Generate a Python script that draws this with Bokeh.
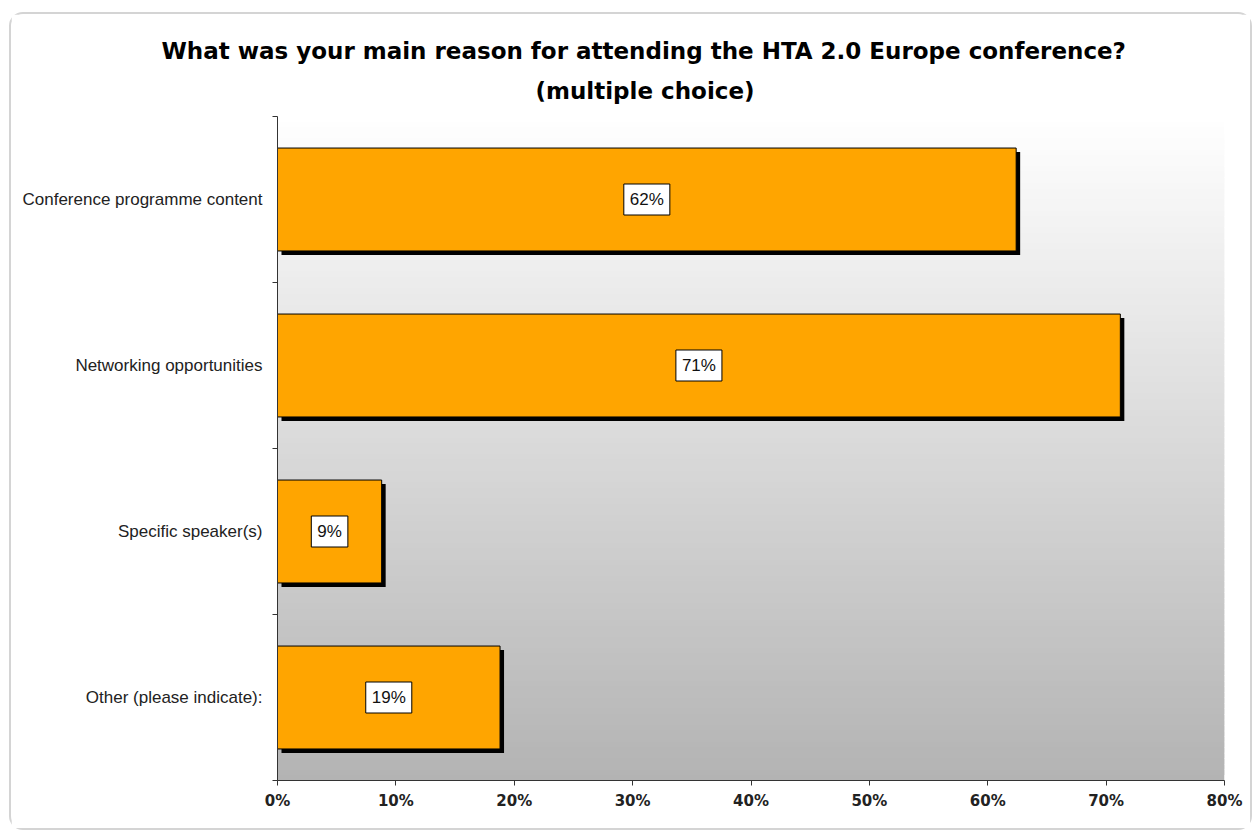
from bokeh.plotting import figure
from bokeh.models import FixedTicker, Range1d, Title, ColumnDataSource
from bokeh.core.properties import value
from bokeh.embed import file_html
from bokeh.resources import INLINE
import numpy as np

# ---- data ----
categories = ["Conference programme content", "Networking opportunities",
              "Specific speaker(s)", "Other (please indicate):"]
values = [62.4, 71.2, 8.8, 18.8]
value_labels = ["62%", "71%", "9%", "19%"]
x_ticks = [0, 10, 20, 30, 40, 50, 60, 70, 80]
x_tick_labels = ["0%", "10%", "20%", "30%", "40%", "50%", "60%", "70%", "80%"]
title_lines = ["What was your main reason for attending the HTA 2.0 Europe conference?",
               "(multiple choice)"]

n = len(categories)
ypos = [n - i - 0.5 for i in range(n)]
XMAX = x_ticks[-1]

W, H = 1243, 818
MBL, MBR, MBT, MBB = 266, 30, 102, 52
p = figure(width=W, height=H, x_range=Range1d(0, XMAX), y_range=Range1d(0, n),
           output_backend="svg", toolbar_location=None,
           min_border_left=MBL, min_border_right=MBR, min_border_top=MBT, min_border_bottom=MBB)
p.styles = {"border": "2px solid #d4d4d4", "border-radius": "14px",
            "margin-left": "9px", "margin-top": "12px"}
p.background_fill_color = "white"
p.border_fill_color = "white"
p.outline_line_color = None
p.xgrid.visible = False
p.ygrid.visible = False

# gradient background (white at top -> gray at bottom)
steps = 120
edges = np.linspace(0, n, steps + 1)
cols = []
for i in range(steps):
    t = (i + 0.5) / steps  # 0 bottom -> 1 top
    c = int(round(179 + (255 - 179) * t))
    cols.append("#%02x%02x%02x" % (c, c, c))
p.quad(left=0, right=XMAX, bottom=edges[:-1], top=edges[1:] + 0.03,
       fill_color=cols, line_color=None)

# bars with shadow
frame_w = W - MBL - MBR
frame_h = H - MBT - MBB
dx = 4 * XMAX / frame_w
dy = 4 * n / frame_h
bh = 0.62
src = ColumnDataSource(dict(y=ypos, v=values, lab=value_labels,
                            ys=[y - dy for y in ypos],
                            vs=[v + dx for v in values],
                            mid=[v / 2 for v in values]))
p.hbar(y="ys", left=dx, right="vs", height=bh, source=src,
       fill_color="black", line_color=None)
p.hbar(y="y", left=0, right="v", height=bh, source=src,
       fill_color="#ffa500", line_color="black", line_width=1)

p.text(x="mid", y="y", text="lab", source=src, text_align="center",
       text_baseline="middle", text_font=value("Liberation Sans"),
       text_font_size="17px", text_color="#111111",
       background_fill_color="white", border_line_color="black",
       border_line_width=1, padding=6)

# axes
p.xaxis.ticker = FixedTicker(ticks=x_ticks)
p.xaxis.major_label_overrides = {t: l for t, l in zip(x_ticks, x_tick_labels)}
p.xaxis.major_label_text_font = "DejaVu Sans"
p.xaxis.major_label_text_font_style = "bold"
p.xaxis.major_label_text_font_size = "15px"
p.xaxis.major_label_text_color = "#222222"
p.xaxis.major_tick_out = 5
p.xaxis.major_tick_in = 0
p.xaxis.major_label_standoff = 6
p.xaxis.axis_line_color = "#333333"
p.xaxis.major_tick_line_color = "#333333"

p.yaxis.ticker = FixedTicker(ticks=ypos, minor_ticks=list(range(n + 1)))
p.yaxis.major_label_overrides = {y: c for y, c in zip(ypos, categories)}
p.yaxis.major_label_text_font = "Liberation Sans"
p.yaxis.major_label_text_font_size = "17px"
p.yaxis.major_label_text_color = "#222222"
p.yaxis.major_tick_out = 0
p.yaxis.major_tick_in = 0
p.yaxis.minor_tick_out = 5
p.yaxis.minor_tick_in = 0
p.yaxis.minor_tick_line_color = "#333333"
p.yaxis.major_label_standoff = 10
p.yaxis.axis_line_color = "#333333"

# title (two lines)
p.title.text = title_lines[0]
p.title.align = "left"
p.title.offset = -116
p.title.standoff = 0
p.title.text_line_height = 0.7
p.title.text_font = "DejaVu Sans"
p.title.text_font_style = "bold"
p.title.text_font_size = "23px"
p.title.text_color = "black"
p.add_layout(Title(text=title_lines[1], align="left", offset=258, standoff=25,
                   text_line_height=0.7,
                   text_font="DejaVu Sans", text_font_style="bold",
                   text_font_size="23px", text_color="black"), "above")

open("out.html", "w").write(file_html(p, INLINE))
